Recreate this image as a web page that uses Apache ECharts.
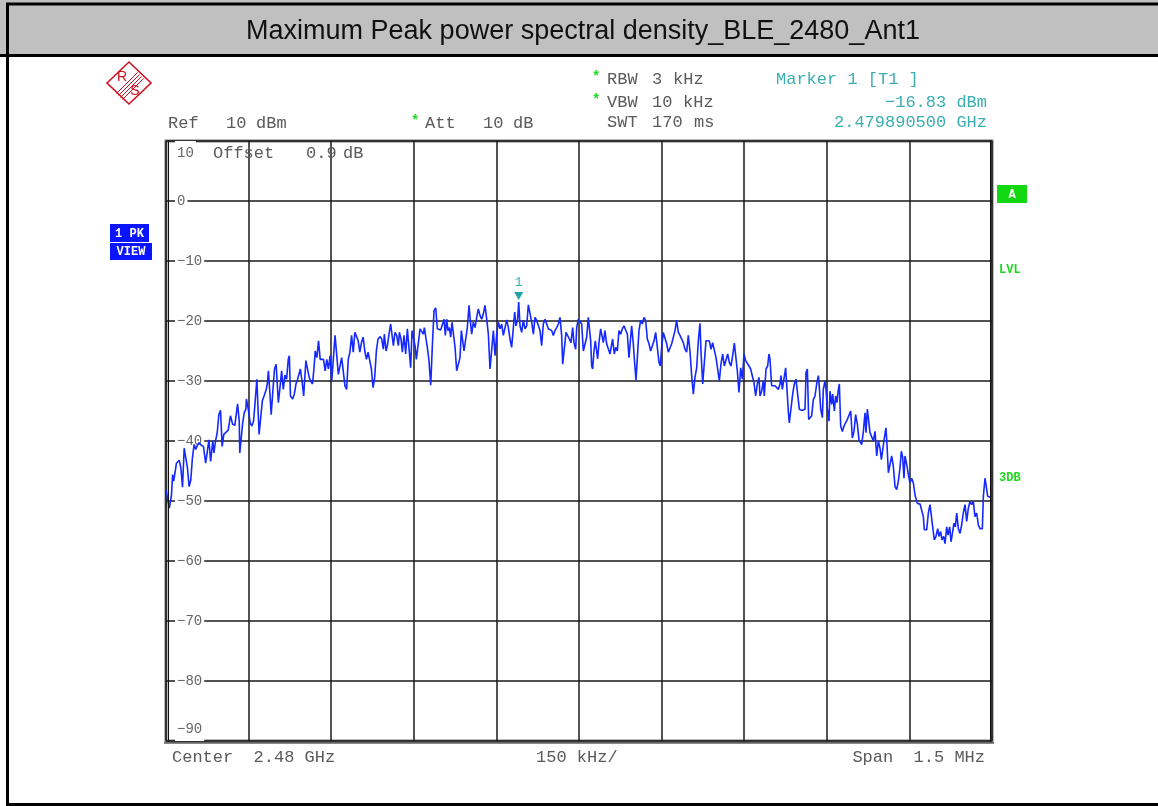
<!DOCTYPE html>
<html>
<head>
<meta charset="utf-8">
<title>Maximum Peak power spectral density_BLE_2480_Ant1</title>
<script src="https://cdn.jsdelivr.net/npm/echarts@6/dist/echarts.min.js"></script>
<style>
html, body { margin: 0; padding: 0; background: #fff; }
#chart { width: 1158px; height: 806px; }
</style>
</head>
<body>
<div id="chart"></div>
<script>
var chartTitle = "Maximum Peak power spectral density_BLE_2480_Ant1";

// sweep points: frequency offset from 2.48 GHz centre (kHz) and level (dBm)
var freqKHz = [
    -750, -744, -740, -738, -736, -734, -731, -726, -723, -720, -717, -714, -711, -708, -705, -702,
    -699, -696, -693, -690, -686, -682, -678, -675, -672, -669, -665, -663, -660, -657, -654, -651,
    -648, -645, -642, -637, -633, -629, -625, -620, -617, -616, -613, -611, -608, -605, -604, -601,
    -597, -594, -591, -588, -585, -582, -581, -578, -575, -572, -568, -566, -564, -561, -559, -556,
    -553, -550, -548, -546, -543, -540, -537, -534, -531, -528, -526, -524, -520, -517, -514, -511,
    -508, -506, -503, -500, -496, -493, -490, -487, -484, -481, -479, -476, -473, -470, -467, -464,
    -461, -458, -455, -452, -449, -446, -443, -440, -437, -434, -431, -428, -425, -422, -419, -416,
    -413, -410, -407, -404, -401, -398, -395, -392, -389, -386, -383, -380, -377, -374, -371, -368,
    -365, -361,
    -358.3, -355.3, -353.5, -350.4, -348.0, -345.0, -342.0, -339.5, -337.1, -334.1, -331.1, -328.0,
    -326.2, -323.2, -320.8, -317.8, -314.7, -311.7, -308.7, -305.7, -303.2, -300.2, -297.8, -295.4,
    -291.7, -288.7, -285.7, -282.7, -280.8, -277.8, -275.4, -272.4, -269.3, -266.3, -263.3, -260.3,
    -257.2, -254.2, -251.2, -248.2, -245.1, -242.7, -240.3, -237.9, -235.4, -233.0, -230.6, -228.2,
    -225.1, -222.1, -219.1, -216.1, -213.6, -211.2, -208.8, -205.8, -202.8, -199.7, -197.9, -194.9,
    -191.9, -188.8, -185.8, -182.8, -179.7, -176.7, -173.7, -170.7, -167.6, -164.6, -161.6, -158.6,
    -155.5, -152.5, -149.5, -146.5, -143.4, -140.4, -137.4, -134.4, -131.3, -128.3, -125.3, -122.3,
    -119.2, -116.8, -114.4, -111.4, -109.5, -107.1, -104.1, -101.1, -98.0, -95.0, -92.0, -89.0,
    -85.9, -82.9, -79.9, -76.9, -73.8, -70.8, -67.8, -64.8, -61.7, -58.7, -55.7, -52.6,
    -49.6, -46.6, -43.6, -40.5, -37.5, -34.5, -31.5, -29.6, -26.6, -23.6, -20.6, -17.5,
    -14.5, -11.5, -9.1, -6.0, -4.2, -1.2,
    1.8, 4.8, 7.9, 10.9, 13.9, 16.9, 21.2, 23.0, 24.8, 27.2, 29.6, 32.1,
    33.9, 36.3, 39.3, 41.8, 44.2, 47.2, 50.2, 53.3, 56.3, 59.3, 61.1, 64.1,
    66.6, 69.6, 72.6, 75.6, 78.7, 81.7, 84.7, 87.8, 90.8, 93.8, 95.6, 98.6,
    100.5, 103.5, 105.9, 108.9, 112.0, 115.0, 118.0, 121.0, 124.1, 127.1, 130.1, 133.1,
    136.2, 139.2, 142.2, 145.3, 147.7, 150.1, 153.1, 156.2, 159.2, 162.2, 165.2, 168.3,
    171.3, 174.3, 177.3, 180.4, 183.4, 186.4, 189.4, 192.5, 195.5, 198.5, 201.5, 204.6,
    207.6, 210.6, 213.7, 216.7, 219.7, 221.5, 224.6, 227.6, 230.6, 233.6, 236.7, 239.7,
    242.7, 245.7, 248.8, 251.8, 254.8, 257.8, 260.9, 263.9, 266.9, 270.0, 273.0, 276.0,
    279.0, 282.1, 284.5, 287.5, 290.5, 293.6, 296.6, 299.6, 302.6, 305.7, 308.7, 311.7,
    314.7, 317.8, 320.8, 323.8, 326.8, 328.7, 331.7, 334.7, 336.5, 339.6, 342.6, 345.0,
    346.8, 349.8, 352.9, 355.9, 358.9, 362.0, 365.0, 366.8, 369.2, 372.2, 375.3, 377.1,
    380.1, 381.9, 385.0, 388.0, 391.0, 394.0, 397.1, 400.1,
    401.4, 404.4, 407.3, 410.4, 412.3, 414.7, 417.1, 419.5, 422.5, 425.6, 428.6, 431.6,
    434.7, 436.5, 438.9, 441.9, 443.7, 446.8, 448.6, 451.0, 454.0, 455.8, 458.9, 460.7,
    463.7, 466.1, 468.5, 471.0, 472.8, 475.2, 478.2, 481.3, 484.3, 487.3, 490.3, 493.4,
    496.4, 499.4, 502.4, 505.5, 508.5, 511.5, 513.3, 516.4, 519.4, 521.2, 523.6, 526.1,
    528.5, 531.5, 534.5, 537.6, 540.6, 543.6, 546.6, 549.1, 552.1, 554.5, 557.5, 559.3,
    561.8, 564.8, 567.8, 570.8, 573.9, 576.9, 579.9, 582.9, 585.4, 587.8, 590.2, 592.0,
    595.1, 598.1, 601.1, 604.1, 607.2, 610.2, 614.4, 619.3, 622.9, 625.3, 627.1, 631.4,
    634.4, 637.4, 640.5, 642.3, 645.3, 648.3, 651.4, 653.8, 656.8, 659.2, 662.2, 664.7,
    667.7, 670.1, 673.1, 675.6, 678.6, 681.0, 683.4, 685.9, 688.9, 691.9, 694.9, 697.9,
    701.0, 704.0, 707.0, 710.1, 713.1, 716.1, 719.1, 722.2, 725.2, 728.2, 732.5, 734.3,
    737.3, 739.7, 742.1, 745.2, 750
];

var levelDbm = [
    -48.1, -51.2, -49.0, -45.6, -46.7, -46.5, -43.7, -43.2, -44.5, -47.7, -41.2, -40.9, -44.5, -47.6, -46.5, -42.8,
    -40.6, -41.4, -40.7, -40.3, -40.7, -40.9, -43.7, -43.8, -39.8, -43.4, -40.0, -42.0, -40.0, -38.6, -35.6, -34.9,
    -40.9, -38.9, -38.6, -38.2, -35.8, -37.2, -37.4, -33.8, -36.7, -42.0, -42.0, -37.2, -35.3, -34.7, -33.0, -34.5,
    -37.0, -37.5, -36.7, -33.3, -29.7, -29.4, -38.9, -39.0, -33.3, -32.5, -31.4, -30.5, -28.3, -32.5, -35.6, -31.7,
    -28.0, -27.2, -27.5, -33.6, -31.1, -28.3, -31.4, -29.0, -29.7, -26.4, -25.8, -32.5, -33.0, -32.2, -30.5, -29.7,
    -29.4, -28.0, -30.0, -32.5, -26.6, -26.9, -29.4, -30.0, -30.5, -27.6, -25.0, -26.1, -23.3, -26.4, -26.6, -26.4,
    -28.3, -26.4, -28.0, -25.8, -30.0, -30.0, -22.4, -22.2, -28.9, -28.9, -26.1, -25.8, -30.8, -31.4, -26.4, -25.2,
    -22.4, -25.2, -21.9, -21.6, -23.3, -25.2, -23.6, -22.7, -25.0, -26.4, -25.2, -26.6, -28.0, -31.1, -29.4, -25.0,
    -23.0, -22.6,
    -23.0, -24.7, -22.2, -25.0, -24.1, -22.2, -20.5, -20.5, -24.1, -21.9, -22.4, -24.1,
    -21.9, -23.0, -25.2, -22.4, -25.5, -21.3, -21.1, -27.8, -21.6, -21.6, -24.1, -26.4,
    -23.6, -21.3, -21.1, -22.2, -21.1, -23.0, -24.4, -26.6, -30.7, -24.1, -18.3, -17.8,
    -21.3, -21.6, -21.5, -21.3, -19.7, -22.4, -19.7, -21.6, -21.1, -22.7, -20.2, -19.9,
    -24.4, -28.3, -28.6, -26.1, -21.6, -21.3, -25.0, -25.2, -21.1, -17.4, -19.4, -22.2,
    -20.2, -21.1, -19.4, -18.0, -19.1, -19.7, -18.8, -17.4, -19.7, -22.2, -28.0, -28.0,
    -21.6, -25.8, -22.2, -20.2, -21.3, -20.5, -22.4, -22.7, -19.8, -21.1, -23.0, -24.4,
    -21.1, -18.5, -20.8, -19.7, -16.83, -20.8, -21.9, -19.9, -21.3, -20.8, -17.3, -17.6,
    -20.2, -22.2, -19.4, -19.9, -19.7, -21.6, -24.1, -20.5, -19.7, -20.5, -21.3, -21.1,
    -21.6, -22.4, -21.6, -21.1, -20.5, -19.4, -22.4, -27.2, -27.5, -21.9, -21.9, -23.0,
    -23.6, -21.1, -23.6, -24.7, -21.1, -19.7,
    -19.4, -20.5, -25.0, -25.2, -22.7, -19.4, -23.3, -27.5, -28.0, -25.0, -23.3, -23.0,
    -26.3, -23.6, -21.3, -21.1, -23.6, -21.6, -23.8, -24.1, -25.5, -25.2, -23.0, -25.5,
    -24.4, -25.0, -21.6, -22.2, -21.3, -20.8, -20.6, -22.2, -26.1, -25.8, -20.8, -23.8,
    -26.3, -29.9, -29.7, -21.6, -19.9, -20.5, -19.4, -19.9, -23.0, -23.8, -25.0, -25.0,
    -23.3, -21.9, -21.6, -26.9, -27.5, -24.4, -21.9, -22.2, -23.8, -25.2, -25.5, -23.8,
    -22.7, -21.6, -19.9, -21.9, -22.4, -22.2, -23.6, -24.7, -25.2, -22.4, -25.0, -29.1,
    -32.2, -29.4, -27.8, -23.3, -20.4, -25.0, -30.5, -26.9, -23.3, -23.6, -23.3, -24.7,
    -23.6, -23.3, -26.1, -28.0, -30.0, -27.2, -25.5, -27.5, -27.2, -25.5, -26.9, -27.5,
    -25.8, -23.7, -23.7, -28.3, -31.9, -27.8, -29.7, -25.5, -26.6, -26.9, -27.5, -28.0,
    -28.3, -30.3, -32.5, -30.5, -29.4, -32.5, -31.7, -30.0, -32.5, -28.0, -27.5, -25.5,
    -26.3, -30.8, -31.0, -30.8, -31.1, -31.4, -30.5, -29.1, -31.4, -31.7, -27.8, -27.8,
    -35.0, -37.0, -36.7, -32.2, -30.5, -29.7, -30.0, -34.7,
    -35.0, -34.9, -35.0, -34.7, -28.6, -28.0, -36.4, -36.6, -35.8, -33.1, -32.5, -30.5,
    -29.1, -31.1, -34.7, -36.1, -31.4, -30.0, -31.4, -34.7, -36.7, -31.7, -33.9, -32.2,
    -35.0, -32.5, -33.6, -31.4, -30.5, -37.5, -38.4, -37.5, -37.8, -36.4, -36.7, -35.0,
    -39.5, -38.4, -35.6, -37.2, -39.8, -39.5, -40.6, -38.4, -35.3, -38.6, -34.7, -34.5,
    -38.6, -38.4, -40.0, -38.4, -42.5, -40.0, -41.2, -43.1, -43.4, -39.5, -37.8, -40.6,
    -45.3, -45.1, -42.5, -44.2, -47.6, -48.1, -46.7, -44.5, -41.7, -42.7, -46.2, -42.5,
    -43.9, -45.6, -47.0, -46.2, -47.0, -49.0, -50.4, -50.5, -50.4, -52.6, -54.8, -54.8,
    -52.0, -50.6, -50.6, -54.3, -56.5, -55.9, -54.6, -55.9, -55.1, -56.5, -55.9, -57.1,
    -54.3, -55.7, -54.3, -56.8, -55.1, -53.7, -54.3, -52.0, -54.6, -55.4, -54.0, -52.0,
    -50.6, -53.4, -51.2, -50.1, -50.6, -50.1, -52.6, -52.0, -54.0, -54.6, -54.6, -49.2,
    -46.2, -46.4, -49.2, -49.5, -49.5
];

var markerFreq = -109.5;
var markerLevel = -16.83;
var bottomLabels = ["Center  2.48 GHz", "150 kHz/", "Span  1.5 MHz"];

var MONO = "'Liberation Mono','Courier New',monospace";
var GRAY = "#5a5a5a";
var TEAL = "#3aaeb0";
var GREEN = "#1ed81e";

function text(x, y, s, color, extra) {
    var style = {
        x: x,
        y: y,
        text: s,
        fill: color || GRAY,
        font: "17px " + MONO,
        textAlign: "left",
        textVerticalAlign: "middle"
    };
    for (var k in (extra || {})) {
        style[k] = extra[k];
    }
    return { type: "text", z: 20, style: style };
}

function line(x1, y1, x2, y2, color, w) {
    return {
        type: "line", z: 20,
        shape: { x1: x1, y1: y1, x2: x2, y2: y2 },
        style: { stroke: color, lineWidth: w }
    };
}

function rect(x, y, w, h, fill, z) {
    return { type: "rect", z: z || 19, shape: { x: x, y: y, width: w, height: h }, style: { fill: fill } };
}

var graphics = [
    // title bar
    rect(0, 0, 1158, 56, "#c0c0c0", 1),
    line(6, 4, 1158, 4, "#000", 3),
    line(0, 55.5, 1158, 55.5, "#000", 3),
    line(7.5, 3, 7.5, 806, "#000", 3),
    line(6, 804.5, 1158, 804.5, "#000", 3),
    text(583, 32, chartTitle, "#111", { font: "27px 'Liberation Sans',Arial,sans-serif", textAlign: "center" }),

    // R&S logo
    {
        type: "polygon", z: 20,
        shape: { points: [[107, 83], [129, 62], [151, 83], [129, 104]] },
        style: { fill: "none", stroke: "#cc1020", lineWidth: 1.6 }
    },
    line(116.5, 93.5, 137.5, 72.5, "#cc1020", 1),
    line(118.5, 95.5, 139.5, 74.5, "#cc1020", 1),
    line(120.5, 97.5, 141.5, 76.5, "#cc1020", 1),
    line(122.5, 99.5, 143.5, 78.5, "#cc1020", 1),
    text(122, 77, "R", "#cc1020", { font: "14px 'Liberation Sans',Arial,sans-serif", textAlign: "center" }),
    text(135, 91, "S", "#cc1020", { font: "14px 'Liberation Sans',Arial,sans-serif", textAlign: "center" }),

    // header settings
    text(168, 123, "Ref"), text(226, 123, "10"), text(256, 123, "dBm"),
    text(411, 121, "*", GREEN, { font: "bold 14px " + MONO }),
    text(425, 123, "Att"), text(483, 123, "10"), text(513, 123, "dB"),
    text(592, 77, "*", GREEN, { font: "bold 14px " + MONO }),
    text(607, 79, "RBW"), text(652, 79, "3"), text(673, 79, "kHz"),
    text(592, 100, "*", GREEN, { font: "bold 14px " + MONO }),
    text(607, 102, "VBW"), text(652, 102, "10"), text(683, 102, "kHz"),
    text(607, 122, "SWT"), text(652, 122, "170"), text(694, 122, "ms"),
    text(776, 79, "Marker 1 [T1 ]", TEAL),
    text(987, 102, "\u221216.83 dBm", TEAL, { textAlign: "right" }),
    text(987, 122, "2.479890500 GHz", TEAL, { textAlign: "right" }),
    text(213, 153, "Offset"), text(306, 153, "0.9"), text(343, 153, "dB"),

    // trace info boxes
    rect(110, 224, 39, 18, "#0a14ff"),
    text(129.5, 233.5, "1 PK", "#fff", { font: "bold 12px " + MONO, textAlign: "center" }),
    rect(110, 243, 42, 17, "#0a14ff"),
    text(131, 252, "VIEW", "#fff", { font: "bold 12px " + MONO, textAlign: "center" }),
    rect(997, 185, 30, 18, "#12d812"),
    text(1012, 194.5, "A", "#fff", { font: "bold 12px " + MONO, textAlign: "center" }),
    text(999, 270, "LVL", GREEN, { font: "bold 12px " + MONO }),
    text(999, 478, "3DB", GREEN, { font: "bold 12px " + MONO }),

    // plot frame inner edges
    line(168.5, 140, 168.5, 742, "#111", 1),
    line(990.5, 140, 990.5, 742, "#111", 1),
    line(164, 743, 994, 743, "#111", 1),

    // bottom annotation
    text(172, 757, bottomLabels[0]),
    text(536, 757, bottomLabels[1]),
    text(985, 757, bottomLabels[2], GRAY, { textAlign: "right" })
];

var c = echarts.init(document.getElementById("chart"), null, { renderer: "canvas" });

var option = {
    animation: false,
    backgroundColor: "#fff",
    grid: {
        left: 166,
        right: 166,
        top: 141,
        bottom: 65,
        show: true,
        borderColor: "#777",
        borderWidth: 3,
        backgroundColor: "#fff"
    },
    xAxis: {
        type: "value",
        min: -750,
        max: 750,
        interval: 150,
        axisLine: { show: false },
        axisTick: { show: false },
        axisLabel: { show: false },
        splitLine: { show: true, lineStyle: { color: "#1a1a1a", width: 1.5 } }
    },
    yAxis: {
        type: "value",
        min: -90,
        max: 10,
        interval: 10,
        axisLine: { show: false },
        axisTick: { show: false },
        axisLabel: {
            inside: true,
            margin: 9,
            fontFamily: MONO,
            fontSize: 14,
            color: "#666",
            backgroundColor: "#fff",
            padding: [5, 2],
            verticalAlignMaxLabel: "top",
            verticalAlignMinLabel: "bottom",
            formatter: function (v) {
                return String(v).replace("-", "\u2212");
            }
        },
        splitLine: { show: true, lineStyle: { color: "#1a1a1a", width: 1.5 } }
    },
    series: [{
        type: "line",
        data: freqKHz.map(function (f, i) {
            return [f, levelDbm[i]];
        }),
        showSymbol: false,
        symbol: "none",
        sampling: null,
        lineStyle: { color: "#1428ff", width: 1.6 },
        z: 5,
        markPoint: {
            symbol: "triangle",
            symbolRotate: 180,
            symbolSize: [9, 8],
            symbolOffset: [0, -6],
            itemStyle: { color: "#1fa3a3" },
            label: {
                show: true,
                position: "top",
                distance: 3,
                formatter: "1",
                color: TEAL,
                fontFamily: MONO,
                fontSize: 13
            },
            data: [{ coord: [markerFreq, markerLevel] }]
        }
    }],
    graphic: graphics
};

c.setOption(option);
</script>
</body>
</html>
